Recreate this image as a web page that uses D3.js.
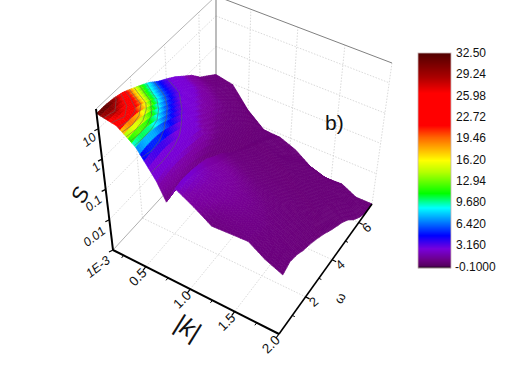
<!DOCTYPE html>
<html>
<head>
<meta charset="utf-8">
<script src="https://cdn.jsdelivr.net/npm/d3@7"></script>
<style>
  html, body { margin: 0; background: #fff; }
  text { font-family: "Liberation Sans", Arial, sans-serif; fill: #111; }
</style>
</head>
<body>
<svg id="chart" width="532" height="372"></svg>
<script>
const kValues = [0.13, 0.32, 0.5, 0.69, 0.78, 0.88, 1.07, 1.25, 1.44, 1.63, 1.81, 2.0];
const omegaValues = [0, 0.5, 1, 1.5, 2, 2.5, 3, 3.5, 4, 4.5, 5, 5.5, 6, 6.5, 7];
// S(|k|, omega), one row per |k|
const sValues = [
  [32, 32.5, 30, 25, 18, 12.5, 8.5, 5, 3.3, 2.1, 1.2, 0.7, 0.33, 0.2, 0.12],
  [24, 26, 24, 19, 13, 8.5, 5.5, 3.6, 2.4, 1.5, 0.9, 0.45, 0.26, 0.15, 0.093],
  [8.5, 9.5, 9, 7.5, 5.5, 3.8, 2.6, 1.6, 1, 0.7, 0.45, 0.25, 0.13, 0.07, 0.022],
  [1.2, 1.4, 1.6, 1.5, 1.3, 1.1, 0.95, 0.5, 0.3, 0.2, 0.14, 0.08, 0.04, 0.018, 0.0083],
  [0.35, 0.4, 0.4, 0.35, 0.28, 0.2, 0.13, 0.09, 0.07, 0.05, 0.035, 0.025, 0.018, 0.012, 0.008],
  [1.35, 1.5, 1.4, 1.2, 0.95, 0.6, 0.4, 0.22, 0.13, 0.08, 0.05, 0.035, 0.022, 0.014, 0.0078],
  [0.63, 0.9, 1, 0.95, 0.75, 0.5, 0.3, 0.17, 0.1, 0.06, 0.04, 0.025, 0.012, 0.007, 0.0049],
  [0.28, 0.45, 0.6, 0.6, 0.5, 0.35, 0.2, 0.12, 0.07, 0.045, 0.03, 0.018, 0.011, 0.006, 0.0023],
  [0.3, 0.38, 0.45, 0.45, 0.35, 0.25, 0.14, 0.09, 0.05, 0.03, 0.02, 0.012, 0.007, 0.004, 0.0016],
  [0.32, 0.35, 0.35, 0.3, 0.22, 0.15, 0.1, 0.06, 0.035, 0.022, 0.014, 0.008, 0.005, 0.003, 0.0017],
  [0.15, 0.2, 0.2, 0.15, 0.11, 0.08, 0.06, 0.04, 0.025, 0.016, 0.01, 0.006, 0.003, 0.002, 0.001],
  [0.089, 0.12, 0.1, 0.07, 0.055, 0.04, 0.028, 0.018, 0.012, 0.0083, 0.005, 0.0025, 0.0015, 0.001, 0.001]
];
const kTicks = [0.5, 1.0, 1.5, 2.0];
const kMinor = [0.25, 0.75, 1.25, 1.75];
const omegaTicks = [2, 4, 6];
const omegaMinor = [1, 3, 5];
const sTicks = [0.001, 0.01, 0.1, 1, 10];
const sTickLabels = ["1E-3", "0.01", "0.1", "1", "10"];
const barLabels = ["32.50", "29.24", "25.98", "22.72", "19.46", "16.20", "12.94", "9.680", "6.420", "3.160", "-0.1000"];
const colorStops = [-0.1, -0.05, 0, 0.3, 0.6, 1, 1.4, 2.8, 4.8, 9, 11.2, 14.4, 16.2, 19.7, 21.5, 26.4, 28.84, 32.5];
const colorValues = ["#000000", "#140014", "#690078", "#6e0082", "#7a009b", "#7d00aa", "#7800d2", "#7800dc", "#0000ff", "#00ffff", "#00ff00", "#b4ff00", "#ffff00", "#ff6400", "#ff0000", "#ff0000", "#aa0000", "#500000"];
// the bar itself is darker at the low end than the lit surface
const barLowStops = [-0.1, 0.2, 1, 2.8];
const barLowColors = ["#0a000a", "#55005f", "#6a0082", "#7800dc"];

const svg = d3.select("#chart");
const kx = d3.scaleLinear().domain([0.13, 2]).range([0, 1]);
const wx = d3.scaleLinear().domain([0, 7]).range([0, 1]);
const sz = d3.scaleLog().domain([0.001, 45]).range([0, 1]);
const color = d3.scaleLinear().domain(colorStops).range(colorValues).clamp(true);
const barLow = d3.scaleLinear().domain(barLowStops).range(barLowColors).clamp(true);

// box corners on the floor and the lean of the uprights there
const floor = { a: [113, 250], b: [279, 334], c: [372, 204], d: [216, 138] };
const lift = { a: [-17, -141], b: [9, -141], c: [20, -141], d: [0, -142] };

function mix(c, t, w) {
  return [0, 1].map(i => (1 - t) * (1 - w) * c.a[i] + t * (1 - w) * c.b[i] + t * w * c.c[i] + (1 - t) * w * c.d[i]);
}
function project(k, om, s) {
  const t = kx(k), w = wx(om), l = sz(s);
  const f = mix(floor, t, w), h = mix(lift, t, w);
  return [f[0] + h[0] * l, f[1] + h[1] * l];
}
const line = d3.line();
const sMin = 0.001, sTop = 45, kMin = 0.13, kMax = 2, wMin = 0, wMax = 7;

// box: grid on the walls and floor
const grid = svg.append("g").attr("fill", "none").attr("stroke", "#cfcfcf").attr("stroke-width", 0.8).attr("stroke-dasharray", "1.5 1.5");
function gridLine(a, b) { grid.append("path").attr("d", line([project(...a), project(...b)])); }
kTicks.slice(0, 3).forEach(k => {
  gridLine([k, wMin, sMin], [k, wMax, sMin]);
  gridLine([k, wMax, sMin], [k, wMax, sTop]);
});
omegaTicks.forEach(w => {
  gridLine([kMin, w, sMin], [kMax, w, sMin]);
  gridLine([kMin, w, sMin], [kMin, w, sTop]);
});
sTicks.slice(1).forEach(s => {
  gridLine([kMin, wMin, s], [kMin, wMax, s]);
  gridLine([kMin, wMax, s], [kMax, wMax, s]);
});
gridLine([kMax, wMax, sMin], [kMax, wMax, sTop]);

const frame = svg.append("g").attr("fill", "none");
function frameLine(a, b, col, sw) { frame.append("path").attr("d", line([project(...a), project(...b)])).attr("stroke", col).attr("stroke-width", sw); }
frameLine([kMin, wMin, sTop], [kMin, wMax, sTop], "#b5b5b5", 1);
frameLine([kMin, wMax, sTop], [kMax, wMax, sTop], "#808080", 1);
frameLine([kMin, wMax, sMin], [kMin, wMax, sTop], "#909090", 1.2);
frameLine([kMin, wMin, sMin], [kMin, wMax, sMin], "#b0b0b0", 1);
frameLine([kMin, wMax, sMin], [kMax, wMax, sMin], "#c0c0c0", 1);

// surface, far cells first
const surf = svg.append("g").attr("stroke-linejoin", "round");
const sub = 5;
const lerp = (a, b, t) => a + (b - a) * t;
for (let i = 0; i < kValues.length - 1; i++) {
  for (let j = omegaValues.length - 2; j >= 0; j--) {
    const logAt = (u, v) => {
      const a = Math.log10(sValues[i][j]), b = Math.log10(sValues[i + 1][j]);
      const c = Math.log10(sValues[i][j + 1]), d = Math.log10(sValues[i + 1][j + 1]);
      return Math.pow(10, lerp(lerp(a, b, u), lerp(c, d, u), v));
    };
    const pt = (u, v) => project(lerp(kValues[i], kValues[i + 1], u), lerp(omegaValues[j], omegaValues[j + 1], v), logAt(u, v));
    for (let u = 0; u < sub; u++) {
      for (let v = sub - 1; v >= 0; v--) {
        const u0 = u / sub, u1 = (u + 1) / sub, v0 = v / sub, v1 = (v + 1) / sub;
        const c = color(logAt((u0 + u1) / 2, (v0 + v1) / 2));
        surf.append("path")
          .attr("d", line([pt(u0, v0), pt(u1, v0), pt(u1, v1), pt(u0, v1)]) + "Z")
          .attr("fill", c).attr("stroke", c).attr("stroke-width", 0.7);
      }
    }
    // mesh, only visible on the low part of the surface
    if (sValues[i][j] < 3) {
      const edge = [];
      d3.range(sub + 1).forEach(n => edge.push(pt(n / sub, 0)));
      d3.range(sub + 1).forEach(n => edge.push(pt(1, n / sub)));
      surf.append("path").attr("d", line(edge)).attr("fill", "none")
        .attr("stroke", "#b5a0bd").attr("stroke-opacity", 0.4).attr("stroke-width", 0.6).attr("stroke-dasharray", "1 3");
    }
  }
}

// contour lines on the peak
const rowAt = d3.scaleLinear().domain(d3.range(kValues.length)).range(kValues);
const colAt = d3.scaleLinear().domain(d3.range(omegaValues.length)).range(omegaValues);
const nk = kValues.length, nw = omegaValues.length;
const flat = [];
for (let j = 0; j < nw; j++) for (let i = 0; i < nk; i++) flat.push(sValues[i][j]);
const levels = d3.range(3.16, 32.5, 3.26);
const inside = p => p[0] >= 0.5 && p[0] <= nk - 0.5 && p[1] >= 0.5 && p[1] <= nw - 0.5;
function surfaceAt(p) {
  const x = p[0] - 0.5, y = p[1] - 0.5;
  const i = Math.min(Math.floor(x), nk - 2), j = Math.min(Math.floor(y), nw - 2);
  const u = x - i, v = y - j;
  const a = Math.log10(sValues[i][j]), b = Math.log10(sValues[i + 1][j]);
  const c = Math.log10(sValues[i][j + 1]), d = Math.log10(sValues[i + 1][j + 1]);
  return project(rowAt(x), colAt(y), Math.pow(10, lerp(lerp(a, b, u), lerp(c, d, u), v)));
}
const contourLine = d3.line().defined(inside).x(p => surfaceAt(p)[0]).y(p => surfaceAt(p)[1]);
d3.contours().size([nk, nw]).thresholds(levels)(flat).forEach(ct => {
  ct.coordinates.forEach(poly => poly.forEach(ring => {
    surf.append("path").attr("d", contourLine(ring)).attr("fill", "none")
      .attr("stroke", "#606060").attr("stroke-opacity", 0.8).attr("stroke-width", 0.7);
  }));
});

// axes
const axes = svg.append("g").attr("fill", "none").attr("stroke", "#000");
function axisLine(a, b, sw) { axes.append("path").attr("d", line([a, b])).attr("stroke-width", sw); }
axisLine(project(kMin, wMin, sMin), project(kMax, wMin, sMin), 2);
axisLine(project(kMax, wMin, sMin), project(kMax, wMax, sMin), 1.6);
axisLine(project(kMin, wMin, sMin), project(kMin, wMin, sTop), 2);
function tick(p, dx, dy, sw) { axisLine(p, [p[0] + dx, p[1] + dy], sw); }
kTicks.forEach(k => tick(project(k, wMin, sMin), -3, 4, 1.2));
kMinor.forEach(k => tick(project(k, wMin, sMin), -2, 2.5, 1));
omegaTicks.forEach(w => tick(project(kMax, w, sMin), 4, 2, 1.2));
omegaMinor.forEach(w => tick(project(kMax, w, sMin), 2.5, 1.2, 1));
sTicks.forEach(s => tick(project(kMin, wMin, s), -4, 2, 1.2));

function label(txt, x, y, rot, size, style) {
  svg.append("text").attr("transform", `translate(${x},${y}) rotate(${rot})`)
    .attr("text-anchor", "middle").attr("dominant-baseline", "central")
    .attr("font-size", size).attr("font-style", style || "normal").text(txt);
}
kTicks.forEach(k => {
  const p = project(k, wMin, sMin);
  label(k.toFixed(1), p[0] - 8, p[1] + 10.5, -45, 13.5);
});
omegaTicks.forEach(w => {
  const p = project(kMax, w, sMin);
  label(String(w), p[0] + 8, p[1] + 5, -40, 13);
});
sTicks.forEach((s, i) => {
  const p = project(kMin, wMin, s);
  const n = sTickLabels[i].length;
  label(sTickLabels[i], p[0] - (3 + n * 3), p[1] + 5 + n * 3, -38, 12.5, "italic");
});
label("S", 80, 195, -65, 22, "italic");
label("|k|", 188, 327, 32, 25, "italic");
label("ω", 340, 298, -60, 13);
svg.append("text").attr("x", 325).attr("y", 130).attr("font-size", 21).text("b)");

// colour bar
const barY = d3.scaleLinear().domain([-0.1, 32.5]).range([268, 53]);
const bar = svg.append("g");
d3.range(53, 268).forEach(y => {
  const v = barY.invert(y + 0.5);
  bar.append("rect").attr("x", 418).attr("y", y).attr("width", 33).attr("height", 1.2)
    .attr("fill", v < 2.8 ? barLow(v) : color(v));
});
bar.append("rect").attr("x", 418).attr("y", 53).attr("width", 33).attr("height", 215)
  .attr("fill", "none").attr("stroke", "#c9b5b5").attr("stroke-width", 0.8);
const labelY = d3.scalePoint().domain(barLabels).range([53, 266.5]);
barLabels.forEach(t => {
  svg.append("text").attr("x", t.startsWith("-") ? 455 : 456).attr("y", labelY(t)).attr("dominant-baseline", "central")
    .attr("font-size", 12).text(t);
});
</script>
</body>
</html>
